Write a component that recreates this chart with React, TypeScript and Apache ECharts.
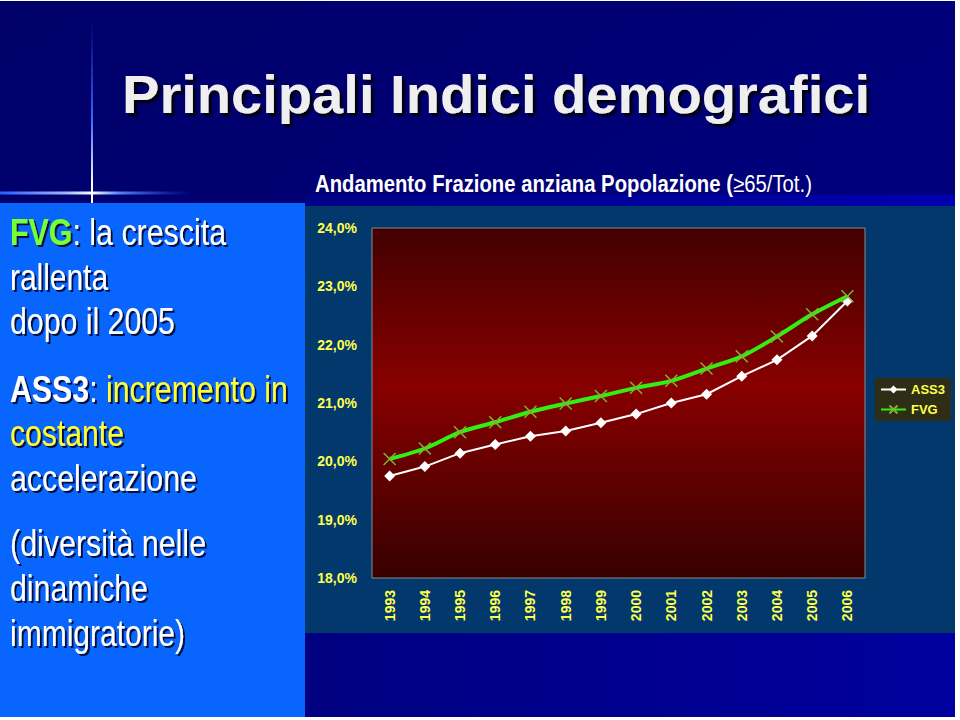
import React, { useEffect, useRef } from "react";
import * as echarts from "echarts";

const years = ["1993", "1994", "1995", "1996", "1997", "1998", "1999", "2000", "2001", "2002", "2003", "2004", "2005", "2006"];
const ass3 = [19.75, 19.91, 20.14, 20.29, 20.43, 20.52, 20.66, 20.81, 21.0, 21.15, 21.46, 21.74, 22.15, 22.75];
const fvg = [20.04, 20.22, 20.5, 20.67, 20.85, 20.99, 21.12, 21.26, 21.38, 21.59, 21.8, 22.14, 22.52, 22.83];
const seriesNames = ["ASS3", "FVG"];
const yMin = 18;
const yMax = 24;
const yStep = 1;

const FONT = "'Liberation Sans', Arial, sans-serif";
const YELLOW = "#ffff4d";

type Seg = { t: string; k: string };

const richStyles: Record<string, { weight: string; color: string }> = {
  w: { weight: "normal", color: "#ffffff" },
  wb: { weight: "bold", color: "#ffffff" },
  g: { weight: "bold", color: "#77ff33" },
  y: { weight: "normal", color: "#ffff33" },
};

let ctx: CanvasRenderingContext2D | null = null;
function measure(text: string, size: number, weight: string) {
  if (!ctx) ctx = document.createElement("canvas").getContext("2d");
  if (!ctx) return text.length * size * 0.5;
  ctx.font = `${weight} ${size}px ${FONT}`;
  return ctx.measureText(text).width;
}

function richLine(segs: Seg[], x: number, baseline: number, size: number, target: number) {
  let w = 0;
  segs.forEach((s) => (w += measure(s.t, size, richStyles[s.k].weight)));
  const sx = target / w;
  const rich: any = {};
  Object.keys(richStyles).forEach((k) => {
    rich[k] = {
      fontSize: size,
      fontFamily: FONT,
      fontWeight: richStyles[k].weight,
      fill: richStyles[k].color,
      textShadowColor: "rgba(0,0,30,0.85)",
      textShadowOffsetX: 2,
      textShadowOffsetY: 2,
      textShadowBlur: 1,
    };
  });
  return {
    type: "text",
    z: 100,
    x,
    y: baseline - size * 0.35,
    scaleX: sx,
    style: {
      text: segs.map((s) => `{${s.k}|${s.t}}`).join(""),
      rich,
      verticalAlign: "middle",
      align: "left",
      fontSize: size,
      fontFamily: FONT,
    },
  };
}

export default function App() {
  const ref = useRef<HTMLDivElement>(null);
  useEffect(() => {
    if (!ref.current) return;
    const chart = echarts.init(ref.current, null, { renderer: "svg" });

    const titleSize = 54;
    const titleText = "Principali Indici demografici";
    const titleW = measure(titleText, titleSize, "bold");

    const subB = "Andamento Frazione anziana Popolazione (";
    const subR = "\u226565/Tot.)";
    const subSize = 23;
    const subW = measure(subB, subSize, "bold") + measure(subR, subSize, "normal");

    const left = 10;
    const leftSize = 37;
    const lines = [
      richLine([{ t: "FVG", k: "g" }, { t: ": la crescita", k: "w" }], left, 245, leftSize, 216),
      richLine([{ t: "rallenta", k: "w" }], left, 290, leftSize, 98),
      richLine([{ t: "dopo il 2005", k: "w" }], left, 334, leftSize, 165),
      richLine([{ t: "ASS3", k: "wb" }, { t: ": ", k: "w" }, { t: "incremento in", k: "y" }], left, 402, leftSize, 278),
      richLine([{ t: "costante", k: "y" }], left, 446, leftSize, 114),
      richLine([{ t: "accelerazione", k: "w" }], left, 491, leftSize, 187),
      richLine([{ t: "(diversit\u00e0 nelle", k: "w" }], left, 556, leftSize, 196),
      richLine([{ t: "dinamiche", k: "w" }], left, 601, leftSize, 138),
      richLine([{ t: "immigratorie)", k: "w" }], left, 646, leftSize, 175),
    ];

    const bg: any[] = [
      { type: "rect", z: -10, shape: { x: 0, y: 0, width: 960, height: 720 }, style: { fill: "#ffffff" } },
      {
        type: "rect",
        z: -9,
        shape: { x: 0, y: 1, width: 955, height: 716 },
        style: {
          fill: new echarts.graphic.LinearGradient(0, 0, 1, 1, [
            { offset: 0, color: "#000068" },
            { offset: 1, color: "#00008a" },
          ]),
        },
      },
      {
        type: "rect",
        z: -8,
        shape: { x: 305, y: 633, width: 650, height: 84 },
        style: {
          fill: new echarts.graphic.LinearGradient(0, 0, 1, 0, [
            { offset: 0, color: "#000080" },
            { offset: 1, color: "#00009e" },
          ]),
        },
      },
      {
        type: "rect",
        z: -8,
        shape: { x: 305, y: 195, width: 650, height: 11 },
        style: {
          fill: new echarts.graphic.LinearGradient(0, 0, 1, 0, [
            { offset: 0, color: "#000088" },
            { offset: 1, color: "#0000b0" },
          ]),
        },
      },
      { type: "rect", z: -7, shape: { x: 305, y: 206, width: 650, height: 427 }, style: { fill: "#02386b" } },
      { type: "rect", z: -7, shape: { x: 0, y: 203, width: 305, height: 514 }, style: { fill: "#0866ff" } },
      {
        type: "rect",
        z: -6,
        shape: { x: 91, y: 20, width: 2, height: 183 },
        style: {
          fill: new echarts.graphic.LinearGradient(0, 0, 0, 1, [
            { offset: 0, color: "rgba(40,80,255,0)" },
            { offset: 0.55, color: "#3a6cff" },
            { offset: 0.9, color: "#ffffff" },
            { offset: 1, color: "#ffffff" },
          ]),
        },
      },
      {
        type: "rect",
        z: -6,
        shape: { x: 0, y: 191.5, width: 190, height: 3 },
        style: {
          fill: new echarts.graphic.LinearGradient(0, 0, 1, 0, [
            { offset: 0, color: "#2a5cff" },
            { offset: 0.35, color: "#9fb8ff" },
            { offset: 0.485, color: "#ffffff" },
            { offset: 0.62, color: "#5a86ff" },
            { offset: 1, color: "rgba(40,80,255,0)" },
          ]),
        },
      },
    ];

    const texts: any[] = [
      {
        type: "text",
        z: 100,
        x: 496,
        y: 113 - titleSize * 0.35,
        scaleX: 748 / titleW,
        style: {
          text: titleText,
          fontSize: titleSize,
          fontWeight: "bold",
          fontFamily: FONT,
          fill: "#efefef",
          align: "center",
          verticalAlign: "middle",
          textShadowColor: "rgba(0,0,0,0.9)",
          textShadowOffsetX: 3,
          textShadowOffsetY: 3,
          textShadowBlur: 2,
        },
      },
      {
        type: "text",
        z: 100,
        x: 315,
        y: 192 - subSize * 0.35,
        scaleX: 497 / subW,
        style: {
          text: `{b|${subB}}{r|${subR}}`,
          verticalAlign: "middle",
          fontSize: subSize,
          fontFamily: FONT,
          rich: {
            b: { fontSize: subSize, fontFamily: FONT, fontWeight: "bold", fill: "#ffffff" },
            r: { fontSize: subSize, fontFamily: FONT, fontWeight: "normal", fill: "#ffffff" },
          },
        },
      },
      ...lines,
    ];

    const option: any = {
      animation: false,
      graphic: [...bg, ...texts],
      grid: {
        left: 372,
        right: 95,
        top: 228,
        bottom: 142,
        show: true,
        z: 1,
        borderColor: "#8a8a8a",
        borderWidth: 1,
        backgroundColor: new echarts.graphic.LinearGradient(0, 0, 0, 1, [
          { offset: 0, color: "#420000" },
          { offset: 0.45, color: "#880000" },
          { offset: 1, color: "#360000" },
        ]),
      },
      legend: {
        data: seriesNames,
        orient: "vertical",
        left: 875,
        top: 378,
        itemWidth: 25,
        itemHeight: 10,
        itemGap: 7,
        padding: [5, 6, 5, 5],
        backgroundColor: "#2e2e16",
        textStyle: { color: YELLOW, fontWeight: "bold", fontSize: 13, fontFamily: FONT },
      },
      xAxis: {
        type: "category",
        data: years,
        boundaryGap: true,
        axisLine: { show: false },
        axisTick: { show: false },
        axisLabel: {
          rotate: 90,
          margin: 12,
          color: YELLOW,
          fontWeight: "bold",
          fontSize: 14,
          fontFamily: FONT,
        },
      },
      yAxis: {
        type: "value",
        min: yMin,
        max: yMax,
        interval: yStep,
        splitLine: { show: false },
        axisLine: { show: false },
        axisTick: { show: false },
        axisLabel: {
          margin: 15,
          color: YELLOW,
          fontWeight: "bold",
          fontSize: 14,
          fontFamily: FONT,
          formatter: (v: number) => v.toFixed(1).replace(".", ",") + "%",
        },
      },
      series: [
        {
          name: seriesNames[0],
          type: "line",
          data: ass3,
          symbol: "diamond",
          symbolSize: 11,
          z: 3,
          lineStyle: { color: "#ffffff", width: 2 },
          itemStyle: { color: "#ffffff" },
        },
        {
          name: seriesNames[1],
          type: "line",
          data: fvg,
          smooth: 0.3,
          symbol: "path://M0,0L10,10M10,0L0,10",
          symbolSize: 12,
          z: 4,
          lineStyle: { color: "#33ee11", width: 4 },
          itemStyle: { color: "none", borderColor: "#7fb23a", borderWidth: 1.5 },
        },
      ],
    };
    chart.setOption(option);
    return () => chart.dispose();
  }, []);
  return <div ref={ref} style={{ position: "absolute", left: 0, top: 0, width: 960, height: 720 }} />;
}
